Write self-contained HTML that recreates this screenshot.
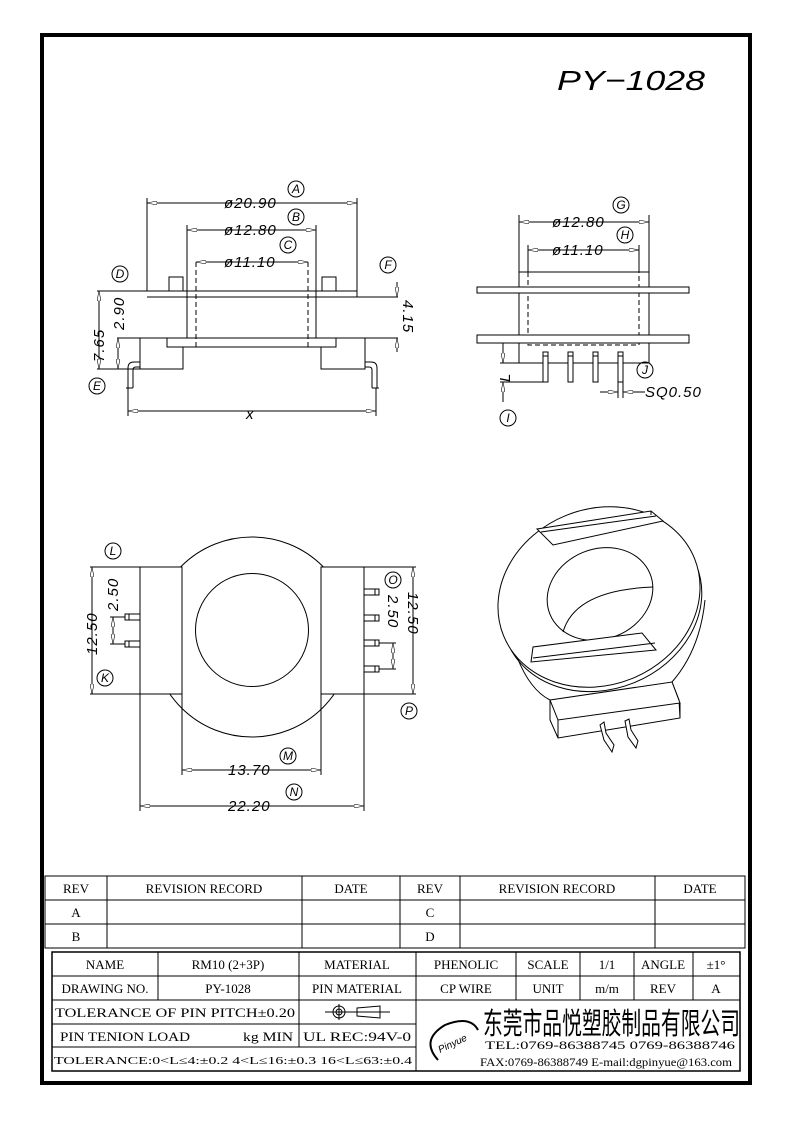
<!DOCTYPE html>
<html><head><meta charset="utf-8"><style>
html,body{margin:0;padding:0;background:#fff}
svg{display:block}
text{font-family:"Liberation Sans",sans-serif;fill:#000}
.d text{font-style:italic;font-size:15px;letter-spacing:1px}
.t text{font-family:"Liberation Serif","Noto Serif CJK SC",serif;font-size:13px}
</style></head><body>
<svg width="793" height="1123" viewBox="0 0 793 1123" xmlns="http://www.w3.org/2000/svg">
<defs>
<marker id="a" viewBox="0 0 10 4" refX="10" refY="2" markerWidth="10" markerHeight="4" orient="auto-start-reverse" markerUnits="userSpaceOnUse"><path d="M0,0 L10,2 L0,4 z" fill="#fff" stroke="#000" stroke-width="0.6"/></marker>
</defs>
<rect x="42" y="35" width="708" height="1048" fill="none" stroke="#000" stroke-width="4"/>
<text x="557" y="90" font-size="28" font-style="italic" textLength="148" lengthAdjust="spacingAndGlyphs" style="font-weight:normal">PY−1028</text>

<g fill="none" stroke="#000" stroke-width="1">
<line x1="147" y1="203" x2="357" y2="203" marker-start="url(#a)" marker-end="url(#a)"/>
<line x1="187" y1="230" x2="316" y2="230" marker-start="url(#a)" marker-end="url(#a)"/>
<line x1="196" y1="262" x2="308" y2="262" marker-start="url(#a)" marker-end="url(#a)"/>
<line x1="147" y1="198" x2="147" y2="291"/><line x1="357" y1="198" x2="357" y2="297"/>
<line x1="187" y1="225" x2="187" y2="297"/><line x1="316" y1="225" x2="316" y2="297"/>
<rect x="169" y="277" width="14" height="14"/><rect x="322" y="277" width="14" height="14"/>
<line x1="97" y1="291" x2="357" y2="291"/>
<line x1="147" y1="297" x2="398" y2="297"/>
<line x1="187" y1="297" x2="187" y2="338"/><line x1="316" y1="297" x2="316" y2="338"/>
<line x1="196" y1="262" x2="196" y2="347" stroke-dasharray="5,3"/><line x1="308" y1="262" x2="308" y2="347" stroke-dasharray="5,3"/>
<line x1="117" y1="338" x2="398" y2="338"/>
<rect x="167" y="338" width="169" height="9"/>
<polyline points="183,347 183,369 140,369 140,338"/>
<polyline points="321,347 321,369 365,369 365,338"/>
<line x1="97" y1="369" x2="140" y2="369"/>
<path d="M128,388 V368 Q128,362 134,362 H140 M133,388 V370 Q133,367 136,367 H140 M126,388 H133"/>
<path d="M377,388 V368 Q377,362 371,362 H365 M372,388 V370 Q372,367 369,367 H365 M372,388 H379"/>
<line x1="128" y1="388" x2="128" y2="416"/><line x1="376" y1="388" x2="376" y2="416"/>
<line x1="128" y1="411" x2="376" y2="411" marker-start="url(#a)" marker-end="url(#a)"/>
<line x1="99" y1="291" x2="99" y2="369" marker-start="url(#a)" marker-end="url(#a)"/>
<line x1="118" y1="338" x2="118" y2="369" marker-start="url(#a)" marker-end="url(#a)"/>
<line x1="397" y1="282" x2="397" y2="297" marker-end="url(#a)"/>
<line x1="397" y1="338" x2="397" y2="352" marker-start="url(#a)"/>
<circle cx="296" cy="189" r="8"/><circle cx="296" cy="217" r="8"/><circle cx="288" cy="245" r="8"/>
<circle cx="120" cy="274" r="8"/><circle cx="97" cy="386" r="8"/><circle cx="388" cy="265" r="8"/>

<line x1="519" y1="222" x2="649" y2="222" marker-start="url(#a)" marker-end="url(#a)"/>
<line x1="528" y1="250" x2="639" y2="250" marker-start="url(#a)" marker-end="url(#a)"/>
<rect x="519" y="272" width="130" height="91"/>
<line x1="519" y1="215" x2="519" y2="272"/><line x1="649" y1="215" x2="649" y2="272"/>
<line x1="528" y1="245" x2="528" y2="272"/><line x1="639" y1="245" x2="639" y2="272"/>
<path d="M528,272 V345 H639 V272" stroke-dasharray="5,3"/>
<rect x="477" y="287" width="212" height="6" fill="#fff"/>
<rect x="477" y="335" width="212" height="8" fill="#fff"/>
<rect x="543" y="352" width="5" height="30" fill="#fff"/><rect x="568" y="352" width="5" height="30" fill="#fff"/>
<rect x="593" y="352" width="5" height="30" fill="#fff"/><rect x="618" y="352" width="5" height="30" fill="#fff"/>
<line x1="543" y1="356" x2="623" y2="356" stroke-dasharray="5,20"/>
<line x1="500" y1="363" x2="519" y2="363"/><line x1="500" y1="382" x2="543" y2="382"/>
<line x1="503" y1="343" x2="503" y2="363" marker-end="url(#a)"/>
<line x1="503" y1="382" x2="503" y2="402" marker-start="url(#a)"/>
<line x1="618" y1="382" x2="618" y2="398"/><line x1="623" y1="382" x2="623" y2="398"/>
<line x1="600" y1="392" x2="618" y2="392" marker-end="url(#a)"/>
<line x1="623" y1="392" x2="645" y2="392" marker-start="url(#a)"/>
<circle cx="621" cy="205" r="8"/><circle cx="625" cy="235" r="8"/>
<circle cx="508" cy="418" r="8"/><circle cx="645" cy="370" r="8"/>

<circle cx="252" cy="637" r="100"/>
<rect x="140" y="567" width="42" height="127" fill="#fff"/>
<rect x="321" y="567" width="43" height="127" fill="#fff"/>
<circle cx="252" cy="630" r="56.5"/>
<rect x="125" y="614" width="15" height="6"/><rect x="125" y="641" width="15" height="6"/>
<line x1="129" y1="614" x2="129" y2="620"/><line x1="129" y1="641" x2="129" y2="647"/>
<rect x="364" y="589" width="15" height="6"/><rect x="364" y="615" width="15" height="6"/>
<rect x="364" y="640" width="15" height="6"/><rect x="364" y="666" width="15" height="6"/>
<line x1="375" y1="589" x2="375" y2="595"/><line x1="375" y1="615" x2="375" y2="621"/>
<line x1="375" y1="640" x2="375" y2="646"/><line x1="375" y1="666" x2="375" y2="672"/>
<line x1="90" y1="567" x2="140" y2="567"/><line x1="90" y1="694" x2="140" y2="694"/>
<line x1="92" y1="567" x2="92" y2="694" marker-start="url(#a)" marker-end="url(#a)"/>
<line x1="110" y1="617" x2="125" y2="617"/><line x1="110" y1="644" x2="125" y2="644"/>
<line x1="113" y1="617" x2="113" y2="644" marker-start="url(#a)" marker-end="url(#a)"/>
<line x1="364" y1="567" x2="416" y2="567"/><line x1="364" y1="694" x2="416" y2="694"/>
<line x1="413" y1="567" x2="413" y2="694" marker-start="url(#a)" marker-end="url(#a)"/>
<line x1="379" y1="643" x2="396" y2="643"/><line x1="379" y1="669" x2="396" y2="669"/>
<line x1="393" y1="643" x2="393" y2="669" marker-start="url(#a)" marker-end="url(#a)"/>
<line x1="182" y1="694" x2="182" y2="775"/><line x1="321" y1="694" x2="321" y2="775"/>
<line x1="140" y1="694" x2="140" y2="811"/><line x1="364" y1="694" x2="364" y2="811"/>
<line x1="182" y1="770" x2="321" y2="770" marker-start="url(#a)" marker-end="url(#a)"/>
<line x1="140" y1="806" x2="364" y2="806" marker-start="url(#a)" marker-end="url(#a)"/>
<circle cx="113" cy="551" r="8"/><circle cx="105" cy="678" r="8"/>
<circle cx="393" cy="580" r="8"/><circle cx="409" cy="711" r="8"/>
<circle cx="288" cy="756" r="8"/><circle cx="294" cy="792" r="8"/>

<path d="M517,657 Q530,690 550,700 L550,720 L558,738 L680,718 L679,700 L672,682 Q700,650 705,600"/>
<ellipse cx="602" cy="604" rx="102" ry="85" transform="rotate(-22 602 604)"/>
<ellipse cx="599" cy="597" rx="103" ry="88" transform="rotate(-22 599 597)" fill="#fff"/>
<ellipse cx="600" cy="594" rx="54" ry="45" transform="rotate(-22 600 594)"/>
<path d="M563,632 Q575,590 653,587"/>
<polygon points="537,529 651,511 663,521 553,545" fill="#fff"/>
<line x1="651" y1="511" x2="651" y2="515"/><line x1="541" y1="532" x2="656" y2="516"/>
<polygon points="531,662 533,647 642,633 656,650" fill="#fff"/>
<line x1="533" y1="658" x2="655" y2="643"/>
<polygon points="550,700 672,682 680,703 558,720" fill="#fff"/>
<line x1="558" y1="720" x2="558" y2="738"/><line x1="680" y1="703" x2="680" y2="718"/>
<path d="M600,725 L604,722 L606,733 L614,745 L612,752 L604,740 Z M625,721 L629,719 L631,730 L638,741 L636,748 L628,737 Z" fill="#fff"/>
</g>

<g class="d">
<text x="224" y="208">ø20.90</text>
<text x="224" y="235">ø12.80</text>
<text x="224" y="267">ø11.10</text>
<text x="246" y="419">x</text>
<text transform="translate(104,362) rotate(-90)">7.65</text>
<text transform="translate(124,330) rotate(-90)">2.90</text>
<text transform="translate(403,300) rotate(90)">4.15</text>
<text x="552" y="227">ø12.80</text>
<text x="552" y="255">ø11.10</text>
<text transform="translate(510,382) rotate(-90)">L</text>
<text x="645" y="397">SQ0.50</text>
<text transform="translate(97,655) rotate(-90)">12.50</text>
<text transform="translate(118,611) rotate(-90)">2.50</text>
<text transform="translate(408,592) rotate(90)">12.50</text>
<text transform="translate(388,595) rotate(90)">2.50</text>
<text x="228" y="775">13.70</text>
<text x="228" y="811">22.20</text>
</g>
<g font-family="Liberation Serif,serif" font-style="italic" font-size="12" text-anchor="middle">
<text x="296" y="193">A</text><text x="296" y="221">B</text><text x="288" y="249">C</text>
<text x="120" y="278">D</text><text x="97" y="390">E</text><text x="388" y="269">F</text>
<text x="621" y="209">G</text><text x="625" y="239">H</text><text x="508" y="422">I</text><text x="645" y="374">J</text>
<text x="113" y="555">L</text><text x="105" y="682">K</text><text x="393" y="584">O</text><text x="409" y="715">P</text>
<text x="288" y="760">M</text><text x="294" y="796">N</text>
</g>

<g fill="none" stroke="#000" stroke-width="1">
<rect x="45" y="876" width="700" height="72"/>
<line x1="45" y1="900" x2="745" y2="900"/><line x1="45" y1="924" x2="745" y2="924"/>
<line x1="107" y1="876" x2="107" y2="948"/><line x1="302" y1="876" x2="302" y2="948"/>
<line x1="400" y1="876" x2="400" y2="948"/><line x1="460" y1="876" x2="460" y2="948"/>
<line x1="655" y1="876" x2="655" y2="948"/>
<rect x="52" y="952" width="688" height="119" stroke-width="1.5"/>
<line x1="52" y1="976" x2="740" y2="976"/><line x1="52" y1="1000" x2="416" y2="1000"/>
<line x1="52" y1="1024" x2="416" y2="1024"/><line x1="52" y1="1047" x2="416" y2="1047"/>
<line x1="416" y1="1000" x2="740" y2="1000"/>
<line x1="158" y1="952" x2="158" y2="1000"/><line x1="299" y1="952" x2="299" y2="1047"/>
<line x1="416" y1="952" x2="416" y2="1071"/><line x1="516" y1="952" x2="516" y2="1000"/>
<line x1="580" y1="952" x2="580" y2="1000"/><line x1="634" y1="952" x2="634" y2="1000"/>
<line x1="693" y1="952" x2="693" y2="1000"/>
<line x1="325" y1="1012" x2="390" y2="1012"/><circle cx="339" cy="1012" r="6"/><circle cx="339" cy="1012" r="3"/>
<line x1="339" y1="1004" x2="339" y2="1020"/><path d="M357,1008 L380,1006 L380,1018 L357,1016 Z"/>
<path d="M438,1060 Q420,1040 445,1025 Q470,1015 478,1030" stroke-width="2"/>
</g>
<g class="t" text-anchor="middle">
<text x="76" y="893">REV</text><text x="204" y="893">REVISION RECORD</text><text x="351" y="893">DATE</text>
<text x="430" y="893">REV</text><text x="557" y="893">REVISION RECORD</text><text x="700" y="893">DATE</text>
<text x="76" y="917">A</text><text x="430" y="917">C</text>
<text x="76" y="941">B</text><text x="430" y="941">D</text>
<text x="105" y="969">NAME</text><text x="228" y="969">RM10 (2+3P)</text><text x="357" y="969">MATERIAL</text>
<text x="466" y="969">PHENOLIC</text><text x="548" y="969">SCALE</text><text x="607" y="969">1/1</text>
<text x="663" y="969">ANGLE</text><text x="716" y="969">±1°</text>
<text x="105" y="993">DRAWING NO.</text><text x="228" y="993">PY-1028</text><text x="357" y="993">PIN MATERIAL</text>
<text x="466" y="993">CP WIRE</text><text x="548" y="993">UNIT</text><text x="607" y="993">m/m</text>
<text x="663" y="993">REV</text><text x="716" y="993">A</text>
</g>
<g class="t">
<text x="55" y="1017" textLength="240" lengthAdjust="spacingAndGlyphs">TOLERANCE OF PIN PITCH±0.20</text>
<text x="60" y="1041" textLength="130" lengthAdjust="spacingAndGlyphs">PIN TENION LOAD</text><text x="243" y="1041" textLength="50" lengthAdjust="spacingAndGlyphs">kg MIN</text>
<text x="303" y="1041" textLength="108" lengthAdjust="spacingAndGlyphs">UL REC:94V-0</text>
<text x="54" y="1064" style="font-size:11px" textLength="358" lengthAdjust="spacingAndGlyphs">TOLERANCE:0&lt;L≤4:±0.2  4&lt;L≤16:±0.3  16&lt;L≤63:±0.4</text>
<text x="440" y="1053" style="font-size:10px;font-style:italic;font-family:'Liberation Sans',sans-serif" transform="rotate(-25 440 1053)">Pinyue</text>
<text x="483" y="1034" style="font-size:30px;font-family:'Noto Sans CJK SC',sans-serif" textLength="257" lengthAdjust="spacingAndGlyphs">东莞市品悦塑胶制品有限公司</text>
<text x="485" y="1049" style="font-size:12px" textLength="250" lengthAdjust="spacingAndGlyphs">TEL:0769-86388745     0769-86388746</text>
<text x="480" y="1066" style="font-size:12px" textLength="252" lengthAdjust="spacingAndGlyphs">FAX:0769-86388749   E-mail:dgpinyue@163.com</text>
</g>
</svg>
</body></html>
